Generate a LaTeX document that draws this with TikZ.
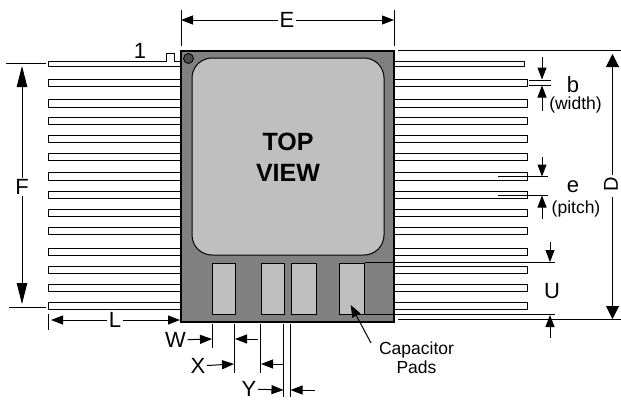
\documentclass[tikz,border=0pt]{standalone}
\usepackage{fontspec}
\setmainfont{Liberation Sans}
\usetikzlibrary{arrows.meta}
\usetikzlibrary{positioning}

\tikzset{
  lead/.style={draw, fill=white, line width=1pt},
  dim/.style={line width=1pt, -{Triangle[length=12pt,width=9pt]}},
  dimlong/.style={line width=1pt, -{Triangle[length=21pt,width=10.5pt]}},
  dimwide/.style={line width=1pt, -{Triangle[length=13pt,width=13pt]}},
  ext/.style={line width=1pt},
  letter/.style={font=\fontsize{22}{22}\selectfont, inner sep=1.5pt},
  small/.style={font=\fontsize{17.5}{18.5}\selectfont, inner sep=0pt},
  pad/.style={draw, fill=black!25, line width=1pt},
}

\begin{document}
\begin{tikzpicture}[x=1pt, y=-1pt]
          \useasboundingbox (0,0) rectangle (621,402);

          % leads
          \foreach \y in {79,99.5,117,135,153,172.5,191,209,227,248,266,284,302} {
            \draw[lead] (48,\y) rectangle (181,\y+7.5);
            \draw[lead] (394,\y) rectangle (527,\y+7.5);
          }
          \draw[lead] (48,61.5) -- (166,61.5) -- (166,53) -- (174,53) -- (174,61.5) -- (181,61.5)
            -- (181,66.5) -- (48,66.5) -- cycle;
          \draw[lead] (394,61.5) rectangle (524,66.5);

          % package
          \draw[fill=black!50, line width=1.3pt] (181,51) rectangle (394,322);
          \draw[fill=black!25, line width=1pt, rounded corners=20pt] (192,58) rectangle (384,255);
          \draw[fill=black!70, line width=0.8pt] (188.5,58.5) circle (5);
          \foreach \x/\w in {212/23,261/23.5,291/25.5,339/25.5} {
            \draw[pad] (\x,263) rectangle (\x+\w,314);
          }
          \node[font=\fontsize{25}{31}\selectfont\bfseries, align=center] (topview) at (288,157) {TOP\\VIEW};
          \node[letter] (pin1) at (140,51) {1};

          % E
          \node[letter] (E) at (287,20) {E};
          \coordinate (e1) at (181,20);
          \coordinate (e2) at (394,20);
          \draw[dim] (E) -- (e1);
          \draw[dim] (E) -- (e2);
          \draw[ext] (181,10) -- (181,46);
          \draw[ext] (394,10) -- (394,46);

          % F
          \node[letter] (F) at (22,187) {F};
          \coordinate (f1) at (22,66);
          \coordinate (f2) at (22,304);
          \draw[dimlong] (F) -- (f1);
          \draw[dimlong] (F) -- (f2);
          \draw[ext] (6,63.5) -- (46,63.5);
          \draw[ext] (9,307) -- (46,307);

          % L
          \node[letter] (L) at (115,320) {L};
          \coordinate (l1) at (51,320);
          \coordinate (l2) at (180,320);
          \draw[dim] (L) -- (l1);
          \draw[dim] (L) -- (l2);
          \draw[ext] (48,314) -- (48,330);

          % D
          \node[font=\fontsize{20}{20}\selectfont, inner sep=0pt, rotate=90] (D) at (611,184.5) {D};
          \coordinate (d1) at (612.5,54);
          \coordinate (d2) at (612.5,319);
          \draw[dimwide] (612.5,175) -- (d1);
          \draw[dimwide] (612.5,197) -- (d2);
          \draw[ext] (398,50.7) -- (621,50.7);
          \draw[ext] (398,319.3) -- (621,319.3);

          % b
          \node[letter] (b) at (573,85) {b};
          \node[small] (width) at (575.5,105) {(width)};
          \coordinate (b1) at (542,57);
          \coordinate (b2) at (542,79.5);
          \coordinate (b3) at (542,111);
          \coordinate (b4) at (542,85.5);
          \draw[dim] (b1) -- (b2);
          \draw[dim] (b3) -- (b4);
          \draw[ext] (529,80) -- (550.5,80);
          \draw[ext] (529,85) -- (550.5,85);

          % e
          \node[letter] (e) at (573,187) {e};
          \node[small] (pitch) at (576,209) {(pitch)};
          \coordinate (p1) at (542,157);
          \coordinate (p2) at (542,176.5);
          \coordinate (p3) at (542,219);
          \coordinate (p4) at (542,195.5);
          \draw[dim] (p1) -- (p2);
          \draw[dim] (p3) -- (p4);
          \draw[ext] (498,176.7) -- (547.5,176.7);
          \draw[ext] (498,195) -- (547.5,195);

          % U
          \node[letter] (U) at (552,291) {U};
          \coordinate (u1) at (550,242);
          \coordinate (u2) at (550,262);
          \coordinate (u3) at (550,338);
          \coordinate (u4) at (550,315);
          \draw[dim] (u1) -- (u2);
          \draw[dim] (u3) -- (u4);
          \draw[ext] (364.5,262.5) -- (555,262.5);
          \draw[ext] (364.5,314) -- (555,314);

          % W, X, Y
          \node[letter] (W) at (175.5,340) {W};
          \node[letter] (X) at (198,366) {X};
          \node[letter] (Y) at (249,389) {Y};
          \coordinate (w1) at (212,339);
          \coordinate (w2) at (258,339);
          \coordinate (w3) at (235,339);
          \coordinate (x1) at (234,364);
          \coordinate (x2) at (283,364);
          \coordinate (x3) at (261,364);
          \coordinate (y1) at (283.5,390);
          \coordinate (y2) at (315,390);
          \coordinate (y3) at (290.5,390);
          \draw[dim] (W) -- (w1);
          \draw[dim] (w2) -- (w3);
          \draw[dim] (X) -- (x1);
          \draw[dim] (x2) -- (x3);
          \draw[dim] (Y) -- (y1);
          \draw[dim] (y2) -- (y3);
          \draw[ext] (212,324) -- (212,348);
          \draw[ext] (234.3,324) -- (234.3,373);
          \draw[ext] (260.6,324) -- (260.6,373);
          \draw[ext] (283.7,324) -- (283.7,397);
          \draw[ext] (290,324) -- (290,397);

          % capacitor pads
          \node[small, align=center] (pads) at (416.5,357.5) {Capacitor\\Pads};
          \coordinate (c1) at (350.7,305);
          \draw[dim] (371,343) -- (c1);
        \end{tikzpicture}
\end{document}
